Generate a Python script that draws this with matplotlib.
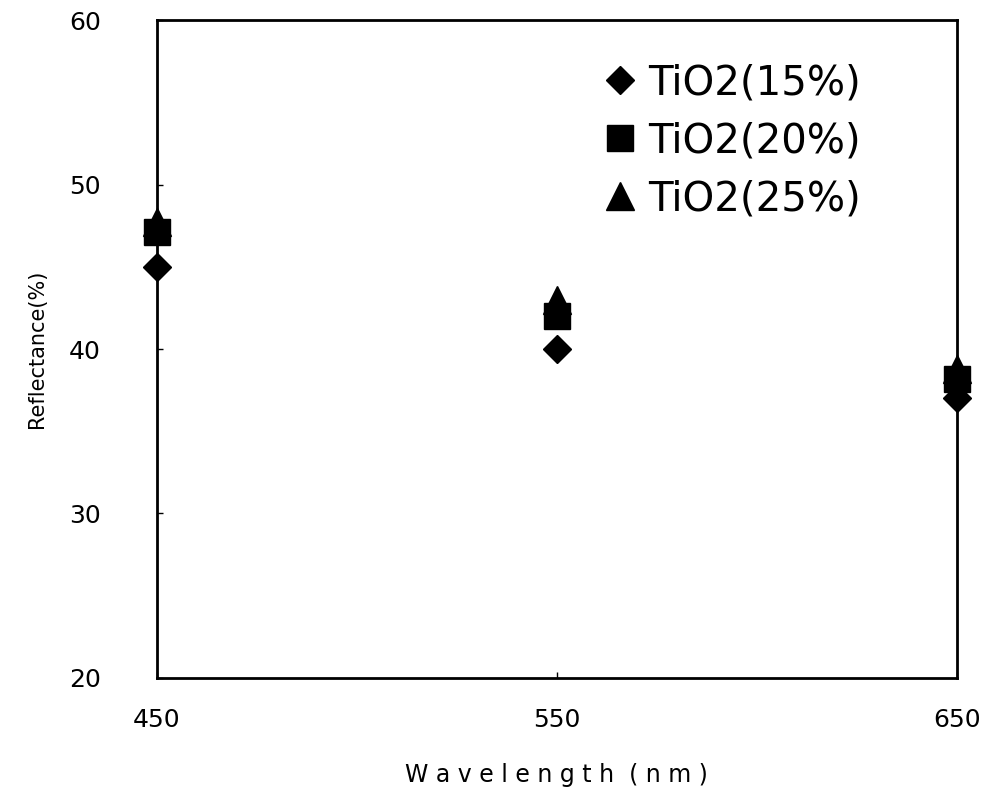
import matplotlib.pyplot as plt
import numpy as np

wavelength = [450, 550, 650]
tio2_15 = [45.0, 40.0, 37.0]
tio2_20 = [47.1, 42.0, 38.2]
tio2_25 = [47.7, 43.0, 38.8]

fig = plt.figure(figsize=(9.97, 8.07), dpi=100)
ax = fig.add_axes([0.157, 0.160, 0.803, 0.815])

# triangles drawn underneath the squares, like in the original
l3, = ax.plot(wavelength, tio2_25, '^', color='black', markersize=20, clip_on=False, zorder=3, label='TiO2(25%)')
l2, = ax.plot(wavelength, tio2_20, 's', color='black', markersize=19, clip_on=False, zorder=4, label='TiO2(20%)')
l1, = ax.plot(wavelength, tio2_15, 'D', color='black', markersize=14, clip_on=False, zorder=5, label='TiO2(15%)')

ax.set_xlim(450, 650)
ax.set_ylim(20, 60)
ax.set_xticks([450, 550, 650])
ax.set_yticks([20, 30, 40, 50, 60])
ax.tick_params(direction='in', length=4, width=1, labelsize=18)
ax.tick_params(axis='y', pad=40)
ax.tick_params(axis='x', pad=22)
for s in ax.spines.values():
    s.set_linewidth(2)

ax.set_xlabel('W a v e l e n g t h  ( n m )', fontsize=17)
ax.set_ylabel('Reflectance(%)', fontsize=15)
ax.xaxis.set_label_coords(0.5, -0.147)
ax.yaxis.set_label_coords(-0.149, 0.5)
ax.xaxis.label.set_va('center')
ax.yaxis.label.set_va('center')

leg = ax.legend(handles=[l1, l2, l3], loc='upper right', bbox_to_anchor=(0.925, 0.99),
                frameon=False, fontsize=29, handlelength=0.7, handletextpad=0.35,
                labelspacing=0.45, markerscale=1.0)

fig.savefig('out.png', dpi=100)
